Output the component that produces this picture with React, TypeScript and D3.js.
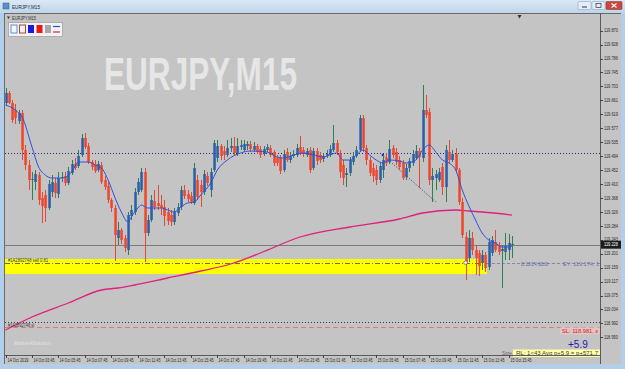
import React from 'react';
import * as d3 from 'd3';

const opens = [119.653,119.683,119.653,119.632,119.599,119.623,119.512,119.467,119.422,119.416,119.437,119.368,119.377,119.338,119.386,119.413,119.380,119.428,119.434,119.413,119.443,119.470,119.464,119.497,119.548,119.524,119.476,119.470,119.452,119.467,119.422,119.404,119.362,119.338,119.248,119.272,119.248,119.212,119.314,119.326,119.386,119.392,119.446,119.263,119.302,119.359,119.353,119.347,119.341,119.326,119.317,119.296,119.323,119.341,119.392,119.380,119.374,119.353,119.422,119.407,119.386,119.434,119.392,119.452,119.488,119.524,119.509,119.497,119.518,119.524,119.503,119.521,119.512,119.524,119.530,119.512,119.524,119.515,119.500,119.512,119.518,119.506,119.488,119.488,119.452,119.506,119.482,119.494,119.497,119.521,119.512,119.497,119.512,119.458,119.509,119.497,119.485,119.494,119.497,119.512,119.533,119.503,119.467,119.437,119.443,119.476,119.494,119.512,119.608,119.518,119.482,119.458,119.452,119.422,119.452,119.488,119.476,119.518,119.506,119.482,119.473,119.431,119.458,119.473,119.488,119.509,119.488,119.632,119.626,119.422,119.428,119.422,119.461,119.401,119.506,119.482,119.500,119.452,119.356,119.251,119.188,119.248,119.212,119.203,119.173,119.197,119.161,119.203,119.236,119.224,119.209,119.206,119.212,119.227];
const highs = [119.698,119.689,119.662,119.650,119.632,119.632,119.527,119.482,119.446,119.452,119.446,119.386,119.392,119.422,119.437,119.428,119.446,119.446,119.446,119.461,119.482,119.488,119.512,119.560,119.563,119.533,119.482,119.482,119.479,119.476,119.434,119.416,119.368,119.347,119.296,119.278,119.257,119.326,119.347,119.398,119.428,119.458,119.458,119.317,119.377,119.392,119.407,119.377,119.362,119.338,119.332,119.338,119.353,119.404,119.407,119.392,119.386,119.473,119.437,119.422,119.452,119.446,119.458,119.542,119.542,119.530,119.524,119.542,119.548,119.551,119.548,119.542,119.542,119.539,119.539,119.536,119.530,119.524,119.524,119.530,119.527,119.512,119.497,119.497,119.512,119.518,119.506,119.512,119.530,119.554,119.521,119.518,119.521,119.518,119.518,119.506,119.503,119.512,119.527,119.587,119.542,119.512,119.482,119.458,119.491,119.506,119.524,119.617,119.617,119.527,119.491,119.473,119.467,119.476,119.497,119.503,119.542,119.527,119.518,119.494,119.482,119.470,119.488,119.512,119.527,119.518,119.707,119.677,119.638,119.458,119.452,119.458,119.473,119.527,119.542,119.512,119.518,119.458,119.368,119.266,119.272,119.266,119.227,119.212,119.212,119.206,119.248,119.254,119.272,119.236,119.227,119.263,119.260,119.254];
const lows = [119.647,119.650,119.593,119.590,119.590,119.482,119.452,119.392,119.362,119.392,119.347,119.293,119.296,119.332,119.371,119.368,119.368,119.416,119.404,119.407,119.437,119.452,119.458,119.491,119.515,119.470,119.452,119.443,119.446,119.410,119.392,119.353,119.326,119.179,119.227,119.230,119.206,119.197,119.302,119.317,119.377,119.386,119.176,119.254,119.296,119.332,119.332,119.317,119.284,119.287,119.284,119.287,119.314,119.332,119.365,119.356,119.350,119.347,119.362,119.341,119.377,119.404,119.371,119.446,119.476,119.482,119.482,119.491,119.506,119.494,119.494,119.512,119.506,119.512,119.506,119.506,119.500,119.488,119.494,119.506,119.491,119.464,119.464,119.440,119.446,119.476,119.473,119.488,119.491,119.497,119.491,119.491,119.443,119.452,119.467,119.473,119.476,119.488,119.491,119.506,119.497,119.428,119.407,119.401,119.434,119.467,119.488,119.506,119.506,119.467,119.434,119.416,119.407,119.413,119.428,119.464,119.470,119.488,119.467,119.452,119.422,119.422,119.446,119.464,119.482,119.398,119.476,119.608,119.407,119.356,119.392,119.416,119.377,119.356,119.473,119.476,119.443,119.347,119.248,119.122,119.176,119.197,119.137,119.134,119.152,119.146,119.152,119.194,119.206,119.197,119.098,119.182,119.182,119.188];
const closes = [119.683,119.653,119.602,119.608,119.623,119.512,119.467,119.422,119.425,119.440,119.362,119.344,119.338,119.410,119.416,119.383,119.428,119.431,119.413,119.449,119.470,119.458,119.494,119.548,119.521,119.476,119.461,119.449,119.470,119.416,119.401,119.362,119.338,119.257,119.272,119.242,119.218,119.317,119.332,119.386,119.416,119.446,119.263,119.302,119.362,119.341,119.344,119.338,119.314,119.299,119.296,119.326,119.341,119.392,119.374,119.365,119.356,119.458,119.371,119.386,119.440,119.413,119.446,119.533,119.524,119.494,119.497,119.518,119.524,119.503,119.524,119.527,119.530,119.530,119.515,119.524,119.506,119.497,119.515,119.521,119.497,119.473,119.473,119.449,119.500,119.482,119.494,119.500,119.518,119.503,119.500,119.509,119.452,119.509,119.479,119.482,119.494,119.500,119.515,119.533,119.506,119.446,119.428,119.443,119.482,119.494,119.512,119.608,119.518,119.482,119.443,119.434,119.422,119.464,119.482,119.473,119.515,119.497,119.476,119.461,119.428,119.458,119.479,119.500,119.509,119.491,119.632,119.617,119.422,119.434,119.440,119.446,119.401,119.512,119.482,119.500,119.452,119.356,119.257,119.176,119.248,119.212,119.188,119.164,119.197,119.158,119.236,119.242,119.212,119.206,119.215,119.224,119.233,119.230];

const blueMaBars = [0,4,5,8,10,12,14,17,20,22,25,27,29,31,33,35,37,38,40,41,43,47,49,51,53,55,57,59,62,64,67,71,74,79,82,84,87,90,93,96,98,100,102,104,106,108,110,112,114,116,119,121,124,126,128,130,132,134,136,138,140,142,144,146,148,150,152,153];
const blueMaVals = [119.647,119.623,119.611,119.521,119.461,119.437,119.428,119.428,119.446,119.476,119.476,119.467,119.458,119.422,119.371,119.326,119.296,119.311,119.338,119.347,119.338,119.338,119.332,119.326,119.341,119.353,119.356,119.377,119.413,119.452,119.482,119.503,119.509,119.506,119.491,119.488,119.497,119.503,119.497,119.491,119.497,119.503,119.482,119.482,119.497,119.512,119.497,119.482,119.473,119.482,119.479,119.473,119.482,119.512,119.527,119.506,119.482,119.473,119.452,119.392,119.344,119.302,119.263,119.242,119.233,119.221,119.221,119.224];

const pinkMaBars = [0,8,19,29,34,39,49,59,68,77,89,104,119,126,136,140,144,153];
const pinkMaVals = [118.972,119.011,119.053,119.092,119.098,119.107,119.128,119.149,119.170,119.203,119.251,119.281,119.305,119.323,119.332,119.329,119.326,119.317];

const priceTicks = [119.870,119.828,119.786,119.745,119.703,119.661,119.619,119.577,119.535,119.494,119.452,119.410,119.368,119.326,119.284,119.243,119.201,119.159,119.117,119.075,119.034,118.992,118.950];

const timeLabels = ['14 Oct 2019','14 Oct 03:45','14 Oct 05:45','14 Oct 07:45','14 Oct 09:45','14 Oct 11:45','14 Oct 13:45','14 Oct 15:45','14 Oct 17:45','14 Oct 19:45','14 Oct 21:45','14 Oct 23:45','15 Oct 01:45','15 Oct 03:45','15 Oct 05:45','15 Oct 07:45','15 Oct 09:45','15 Oct 11:45','15 Oct 13:45','15 Oct 15:45'];
const timeLabelBars = [0,8,16,24,32,40,48,56,64,72,80,88,96,104,112,120,128,136,144,152];

const bidPrice = 119.228;
const entryPrice = 119.174;
const slPrice = 118.981;
const lowerDottedPrice = 118.996;
const upperDottedPrice = 119.503;
const bandTop = 119.185;
const bandBottom = 119.140;
const bandEndBar = 145;
const entryBar = 139;
const tradeLineBars = [114, 130];
const tradeLinePrices = [119.497, 119.356];

const F = 'Liberation Sans, Arial, sans-serif';

export default function App() {
  const W = 625, H = 369;
  const L = 5, R = 600, T = 13, B = 355;
  const n = closes.length;
  const x = d3.scaleLinear().domain([0, n - 1]).range([5.5, 5.5 + 3.31 * (n - 1)]);
  const y = d3.scaleLinear().domain([118.948, 119.872]).range([338, 30]);

  const blueLine = d3.line<number>().x((d, i) => x(blueMaBars[i])).y(d => y(d)).curve(d3.curveMonotoneX)(blueMaVals) || '';
  const pinkLine = d3.line<number>().x((d, i) => x(pinkMaBars[i])).y(d => y(d)).curve(d3.curveMonotoneX)(pinkMaVals) || '';

  const candles = closes.map((c, i) => {
    const o = opens[i];
    const bull = c >= o;
    const cx = Math.round(x(i)) + 0.5;
    const top = y(Math.max(o, c));
    const bot = y(Math.min(o, c));
    return (
      <g key={i}>
        <line x1={cx} x2={cx} y1={y(highs[i])} y2={y(lows[i])} stroke={bull ? '#2f7f52' : '#e2483c'} strokeWidth={1} />
        <rect x={cx - 1.2} y={top} width={2.5} height={Math.max(1, bot - top)} fill={bull ? '#2a5fa8' : '#f0452a'} />
      </g>
    );
  });

  const ey = y(entryPrice);
  const bx = x(bandEndBar) + 1.5;

  return (
    <svg width={W} height={H} style={{ position: 'absolute', left: 0, top: 0 }} fontFamily={F}>
      <defs>
        <linearGradient id="tb" x1="0" y1="0" x2="0" y2="1">
          <stop offset="0" stopColor="#dce9f6" />
          <stop offset="1" stopColor="#bfd4ea" />
        </linearGradient>
        <clipPath id="plot"><rect x={L} y={T} width={R - L} height={B - T} /></clipPath>
      </defs>
      {/* window frame */}
      <rect x={0} y={0} width={W} height={H} fill="#b4cde8" />
      <rect x={0} y={0} width={W} height={13} fill="url(#tb)" />
      <rect x={3} y={3} width={6} height={6} fill="#5a8fc8" stroke="#2d5f98" strokeWidth={0.5} />
      <text x={12} y={9} fontSize={6} fill="#1e2a3a" textLength={28} lengthAdjust="spacingAndGlyphs">EURJPY,M15</text>
      <rect x={578} y={1.5} width={13} height={8} rx={1} fill="#e4edf7" stroke="#7f97b4" strokeWidth={0.5} />
      <line x1={582} x2={587} y1={7} y2={7} stroke="#333" strokeWidth={1} />
      <rect x={592} y={1.5} width={13} height={8} rx={1} fill="#e4edf7" stroke="#7f97b4" strokeWidth={0.5} />
      <rect x={596} y={3.5} width={5} height={4} fill="none" stroke="#333" strokeWidth={0.7} />
      <rect x={606} y={1.5} width={16} height={8} rx={1} fill="#c9483d" stroke="#8a2a22" strokeWidth={0.5} />
      <path d="M611.5,3.5 L616.5,7.5 M616.5,3.5 L611.5,7.5" stroke="#fff" strokeWidth={1.1} />

      {/* chart background */}
      <rect x={4} y={13} width={617} height={351} fill="#c4c4c4" />
      <line x1={4.5} x2={4.5} y1={13} y2={364} stroke="#6a6a6a" />
      <line x1={4} x2={621} y1={13.5} y2={13.5} stroke="#6a6a6a" />

      {/* watermark */}
      <text x={104} y={90} fontSize={46} fontWeight="bold" fill="#e6e6e6" textLength={193} lengthAdjust="spacingAndGlyphs">EURJPY,M15</text>

      {/* top-left label and buttons */}
      <path d="M7,16.5 L10,16.5 L8.5,19 Z" fill="#333" />
      <text x={12} y={19.5} fontSize={4.5} fill="#333" textLength={24} lengthAdjust="spacingAndGlyphs">EURJPY,M15</text>
      <rect x={8.5} y={22.5} width={54} height={14} fill="#f2f2f2" stroke="#9a9a9a" strokeWidth={0.7} />
      <rect x={11} y={25} width={6} height={8} fill="#f4f8fc" stroke="#5a8fd0" strokeWidth={1} />
      <rect x={19.5} y={25} width={6} height={8} fill="#f6eeee" stroke="#a04a3a" strokeWidth={1} />
      <rect x={28} y={25} width={6} height={8} fill="#1818e8" />
      <rect x={36.5} y={25} width={6} height={8} fill="#e81818" />
      <rect x={45} y={25} width={6} height={8} fill="#a8a8a8" />
      <line x1={53} x2={60} y1={26.5} y2={26.5} stroke="#2a4fd0" strokeWidth={1.2} />
      <line x1={53} x2={60} y1={32} y2={32} stroke="#d02a2a" strokeWidth={1.2} />
      <path d="M517.5,15 L521.5,15 L519.5,18.5 Z" fill="#333" />

      <g clipPath="url(#plot)">
        {/* yellow band */}
        <rect x={L} y={y(bandTop)} width={bx - L} height={y(bandBottom) - y(bandTop)} fill="#ffff00" />
        {/* horizontal levels */}
        <line x1={L} x2={R} y1={Math.round(y(upperDottedPrice)) + 0.5} y2={Math.round(y(upperDottedPrice)) + 0.5} stroke="#2c2c78" strokeDasharray="1,2" />
        <line x1={L} x2={R} y1={Math.round(y(bidPrice)) + 0.5} y2={Math.round(y(bidPrice)) + 0.5} stroke="#7c7c7c" />
        <line x1={L} x2={bx} y1={Math.round(ey) + 0.5} y2={Math.round(ey) + 0.5} stroke="#6e6e3a" strokeDasharray="5,2,1,2" />
        <line x1={bx} x2={R} y1={Math.round(ey) + 0.5} y2={Math.round(ey) + 0.5} stroke="#8585a8" strokeDasharray="3,2" />
        <line x1={L} x2={R} y1={Math.round(y(lowerDottedPrice)) + 0.5} y2={Math.round(y(lowerDottedPrice)) + 0.5} stroke="#3a3a3a" strokeDasharray="1,2" />
        <line x1={L} x2={R} y1={Math.round(y(slPrice)) + 0.5} y2={Math.round(y(slPrice)) + 0.5} stroke="#e07a7a" strokeDasharray="5,3" />
        {/* pink MA */}
        <path d={pinkLine} fill="none" stroke="#e0207c" strokeWidth={1.3} />
        {/* trade dotted line */}
        <line x1={x(tradeLineBars[0])} y1={y(tradeLinePrices[0])} x2={x(tradeLineBars[1])} y2={y(tradeLinePrices[1])} stroke="#3a3a8a" strokeDasharray="1,1.5" />
        <circle cx={x(tradeLineBars[0])} cy={y(tradeLinePrices[0])} r={1.2} fill="#2020c0" />
        {candles}
        {/* blue MA */}
        <path d={blueLine} fill="none" stroke="#3050d8" strokeWidth={1} />
        <circle cx={x(entryBar)} cy={ey} r={1.8} fill="#ffffff" stroke="#3a3a6a" strokeWidth={0.6} />
      </g>

      {/* left labels */}
      <text x={8} y={y(entryPrice) - 1} fontSize={4.5} fill="#3a3a3a" textLength={40} lengthAdjust="spacingAndGlyphs">#1A2892748 sell 0.81</text>
      <text x={8} y={y(slPrice) - 0.5} fontSize={4.5} fill="#3a3a3a" textLength={26} lengthAdjust="spacingAndGlyphs">#1A2892748 sl</text>
      <text x={14} y={345} fontSize={5} fill="#e2e2e2" textLength={37} lengthAdjust="spacingAndGlyphs">Market4Solution</text>

      {/* right trade labels */}
      <text x={521} y={ey + 3.5} fontSize={4.8} fill="#5858a8" textLength={27} lengthAdjust="spacingAndGlyphs">01 119.174, 003.00</text>
      <text x={563} y={ey + 3.5} fontSize={4.8} fill="#7070a8" textLength={36} lengthAdjust="spacingAndGlyphs">EY: 119.174, 1</text>
      <rect x={560} y={y(slPrice) + 0.5} width={40} height={7} fill="#e2c4c4" />
      <text x={562} y={y(slPrice) + 6} fontSize={4.8} fill="#d02020" textLength={36} lengthAdjust="spacingAndGlyphs">SL: 118.981, ε</text>
      <text x={568} y={347.5} fontSize={10} fill="#2020b0">+5.9</text>
      <text x={502} y={354.5} fontSize={4.8} fill="#6a6a6a" textLength={10} lengthAdjust="spacingAndGlyphs">Spre</text>
      <rect x={513} y={349.5} width={87} height={7.5} fill="#ffffa8" />
      <text x={516} y={355} fontSize={4.8} fill="#404040" textLength={82} lengthAdjust="spacingAndGlyphs">RL: 1&lt;43 Avg p+5.9 = p+571.7</text>

      {/* price axis */}
      <line x1={R + 0.5} x2={R + 0.5} y1={T} y2={364} stroke="#5a5a5a" />
      {priceTicks.map((p, i) => (
        <g key={i}>
          <line x1={R} x2={R + 3} y1={Math.round(y(p)) + 0.5} y2={Math.round(y(p)) + 0.5} stroke="#444" />
          <text x={604} y={y(p) + 1.8} fontSize={5} fill="#2a2a2a" textLength={14} lengthAdjust="spacingAndGlyphs">{p.toFixed(3)}</text>
        </g>
      ))}
      <rect x={601} y={y(bidPrice) - 4} width={20} height={8} fill="#1c1c1c" />
      <text x={604} y={y(bidPrice) + 1.8} fontSize={5} fill="#ffffff" textLength={14} lengthAdjust="spacingAndGlyphs">{bidPrice.toFixed(3)}</text>

      {/* time axis */}
      <line x1={L} x2={R} y1={B + 0.5} y2={B + 0.5} stroke="#5a5a5a" />
      {timeLabels.map((t, i) => {
        const tx = Math.round(x(timeLabelBars[i])) + 0.5;
        return (
          <g key={i}>
            <line x1={tx} x2={tx} y1={B} y2={B + 3} stroke="#444" />
            <text x={tx + 1} y={361.5} fontSize={5} fill="#2a2a2a" textLength={21} lengthAdjust="spacingAndGlyphs">{t}</text>
          </g>
        );
      })}
    </svg>
  );
}
